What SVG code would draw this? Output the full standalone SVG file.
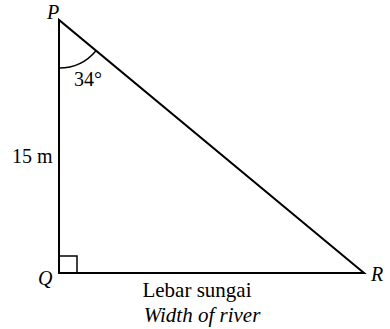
<svg xmlns="http://www.w3.org/2000/svg" width="390" height="329" viewBox="0 0 390 329">
<style>
.l{fill:none;stroke:#000;stroke-width:2;stroke-linejoin:miter}
.t{font-family:"Liberation Serif",serif;font-size:20px;fill:#000}
.b{font-size:21px}
.i{font-style:italic}
</style>
<rect width="390" height="329" fill="#fff"/>
<g id="connectors">
<path class="l" d="M59,20 L59,273 L364,273 Z"/>
<rect x="59" y="256" width="18" height="17" fill="none" stroke="#000" stroke-width="1.5"/>
<path d="M59,68 A48,48 0 0 0 96,50.7" fill="none" stroke="#000" stroke-width="1.5"/>
</g>
<g id="P"><text class="t i" x="47" y="19">P</text></g>
<g id="Q"><text class="t i" x="38" y="285">Q</text></g>
<g id="R"><text class="t i" x="371" y="281">R</text></g>
<g id="angle"><text class="t" x="74" y="86">34°</text></g>
<g id="side"><text class="t" x="12" y="163">15 m</text></g>
<g id="base">
<text class="t b" x="197" y="297" text-anchor="middle">Lebar sungai</text>
<text class="t b i" x="202" y="322" text-anchor="middle">Width of river</text>
</g>
</svg>
